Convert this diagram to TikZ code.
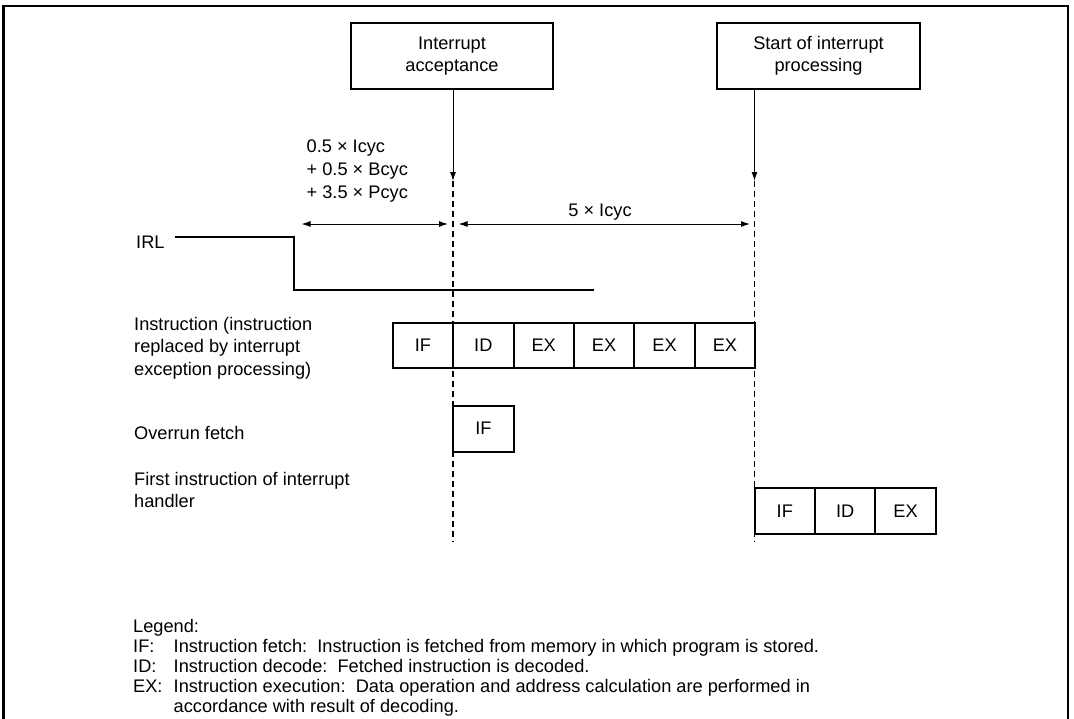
\documentclass[tikz,border=0pt]{standalone}
\usepackage{fontspec}
\setmainfont{Liberation Sans}
\usetikzlibrary{arrows.meta}
\newcommand{\fsz}{\fontsize{18.2}{22}\selectfont}
\begin{document}
\begin{tikzpicture}[x=1pt,y=-1pt,
  lbl/.style={font=\fsz, inner sep=0pt, anchor=base west},
  clbl/.style={font=\fsz, inner sep=0pt, anchor=base},
  cell/.style={draw, line width=2pt, outer sep=0pt, minimum width=60.4pt, minimum height=45.6pt, inner sep=0pt, font=\fsz},
  hdr/.style={draw, line width=2.2pt, outer sep=0pt, minimum height=66pt, align=center, font=\fsz, inner sep=0pt},
  arr/.style={-{Latex[length=9pt,width=6pt]}, line width=1pt},
  dim/.style={{Latex[length=9pt,width=6pt]}-{Latex[length=9pt,width=6pt]}, line width=1pt},
  dsh/.style={line width=1.2pt, dash pattern=on 6pt off 4pt},
  sig/.style={line width=2.2pt},
  frame/.style={line width=2.5pt}
]
\useasboundingbox (0,0) rectangle (1074,718);
\fill[white] (0,0) rectangle (1074,718);
% frame
\draw[frame] (3.5,730) -- (3.5,6) -- (1068,6) -- (1068,730);

% header boxes
\node[hdr, minimum width=202pt] (acc) at (452,56) {Interrupt\\acceptance};
\node[hdr, minimum width=203pt] (start) at (818.5,56) {Start of interrupt\\processing};

% arrows and dashed lines
\coordinate (accT) at (453,181);
\coordinate (accE) at (453,542);
\coordinate (stT) at (754.5,181);
\coordinate (stE) at (754.5,542);
\draw[arr] (accT |- acc.south) -- (accT);
\draw[arr] (stT |- start.south) -- (stT);
\draw[dsh] (accT) -- (accE);
\draw[dsh] (stT) -- (stE);

% timing labels
\node[lbl] (t1) at (306.5,152) {0.5 × Icyc};
\node[lbl] (t2) at (306.5,175) {+ 0.5 × Bcyc};
\node[lbl] (t3) at (306.5,198) {+ 3.5 × Pcyc};
\coordinate (dl) at (301.5,224);
\coordinate (dm1) at (448,224);
\coordinate (dm2) at (458.5,224);
\coordinate (dr) at (750,224);
\draw[dim] (dl) -- (dm1);
\draw[dim] (dm2) -- (dr);
\node[clbl] (t5) at (600,216) {5 × Icyc};

% IRL
\node[lbl] (irl) at (136,248) {IRL};
\coordinate (i1) at (175,237.3);
\coordinate (i2) at (294.3,237.3);
\coordinate (i3) at (294.3,290);
\coordinate (i4) at (594,290);
\draw[sig] (i1) -- (i2) -- (i3) -- (i4);

% instruction row
\node[lbl] (l1a) at (134,330) {Instruction (instruction};
\node[lbl] (l1b) at (134,352.5) {replaced by interrupt};
\node[lbl] (l1c) at (134,375) {exception processing)};
\node[cell] (c1) at (422.9,345.5) {IF};
\node[cell] (c2) at (483.3,345.5) {ID};
\node[cell] (c3) at (543.7,345.5) {EX};
\node[cell] (c4) at (604.1,345.5) {EX};
\node[cell] (c5) at (664.5,345.5) {EX};
\node[cell] (c6) at (724.9,345.5) {EX};

% overrun fetch
\node[lbl] (l2) at (134,439) {Overrun fetch};
\node[cell, minimum height=46pt] (o1) at (483.5,428.7) {IF};

% handler
\node[lbl] (l3a) at (134,485) {First instruction of interrupt};
\node[lbl] (l3b) at (134,507) {handler};
\node[cell] (h1) at (784.8,511) {IF};
\node[cell] (h2) at (845.2,511) {ID};
\node[cell] (h3) at (905.6,511) {EX};

% legend
\node[lbl] (lg0) at (133,632) {Legend:};
\node[lbl] (lg1) at (133,652) {IF:};
\node[lbl] (lg1t) at (173.5,652) {Instruction fetch:\ \ Instruction is fetched from memory in which program is stored.};
\node[lbl] (lg2) at (133,672) {ID:};
\node[lbl] (lg2t) at (173.5,672) {Instruction decode:\ \ Fetched instruction is decoded.};
\node[lbl] (lg3) at (133,692) {EX:};
\node[lbl] (lg3t) at (173.5,692) {Instruction execution:\ \ Data operation and address calculation are performed in};
\node[lbl] (lg4t) at (173.5,712) {accordance with result of decoding.};
\end{tikzpicture}
\end{document}
